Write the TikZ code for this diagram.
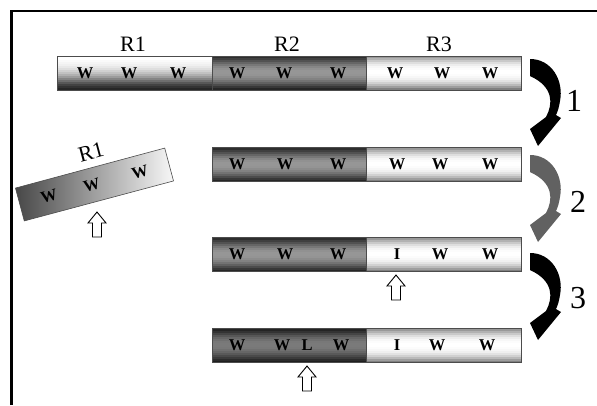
\documentclass[tikz,border=0pt]{standalone}
\usepackage{fontspec}
\setmainfont{Liberation Serif}
\newcommand{\gradseg}[3]{%
  \foreach \c [count=\k] in #3 {
    \fill[black!\c] (#1-77.25, #2-17+\k*2-2) rectangle ++(154.5, 2.3);
  }}
\def\lRone{0,0,2,4,6,9,13,18,24,31,39,48,57,66,74,80,85}
\def\lDark{82,75,68,60,53,47,43,41,41,42,45,49,55,62,70,78,85}
\def\lDarker{86,80,73,66,60,56,53,52,52,53,56,60,65,71,77,83,88}
\def\lLight{40,30,21,13,7,3,1,0,0,1,3,6,11,18,27,38,50}
\tikzset{
  seg/.style={draw=black!70, line width=0.6pt, minimum width=154.5pt, minimum height=34pt, inner sep=0pt},
  wl/.style={font=\fontsize{16.5}{17}\selectfont\bfseries, inner sep=0pt},
  rl/.style={font=\fontsize{22}{23}\selectfont, inner sep=0pt},
  num/.style={font=\fontsize{32}{34}\selectfont, inner sep=0pt},
  bendarrow/.pic={\path[pic actions] (0,0) .. controls (22,0) and (34,22) .. (30,42) .. controls (29,48) and (28,52) .. (26,56) -- (31,59) -- (8,87) -- (0,70) -- (16,58) .. controls (23,45) and (24,28) .. (0,17) -- cycle;},
  hollowup/.pic={\draw[fill=white, line width=0.9pt, line join=miter] (0,0) -- (9,11) -- (4.5,11) -- (4.5,25) -- (-4.5,25) -- (-4.5,11) -- (-9,11) -- cycle;}
}
\begin{document}
\begin{tikzpicture}[x=1pt, y=-1pt]
\useasboundingbox (0,0) rectangle (597,405);
% frame
\draw[line width=2.6pt] (11.5,405) -- (11.5,11) -- (597,11);

% gradients
\gradseg{135}{73}{\lRone}
\gradseg{289.5}{73}{\lDark}
\gradseg{444}{73}{\lLight}
\gradseg{289.5}{164.5}{\lDark}
\gradseg{444}{164.5}{\lLight}
\gradseg{289.5}{254.5}{\lDark}
\gradseg{444}{254.5}{\lLight}
\gradseg{289.5}{345.5}{\lDarker}
\gradseg{444}{345.5}{\lLight}

% top bar
\node[seg] (a1) at (135,73) {};
\node[seg] (a2) at (289.5,73) {};
\node[seg] (a3) at (444,73) {};
\node[rl] (la1) at (133,44) {R1};
\node[rl] (la2) at (287,44) {R2};
\node[rl] (la3) at (439,44) {R3};
\foreach \x [count=\i] in {85,129,178,237,284,338,395,442,490}
  \node[wl] (aw\i) at (\x,73) {W};

% row 2
\node[seg] (b2) at (289.5,164.5) {};
\node[seg] (b3) at (444,164.5) {};
\foreach \x [count=\i] in {237,285,338,397,440,490}
  \node[wl] (bw\i) at (\x,164.5) {W};

% row 3
\node[seg] (c2) at (289.5,254.5) {};
\node[seg] (c3) at (444,254.5) {};
\foreach \x [count=\i] in {237,285,338}
  \node[wl] (cw\i) at (\x,254.5) {W};
\node[wl] (ci) at (397,254.5) {I};
\node[wl] (cw4) at (440,254.5) {W};
\node[wl] (cw5) at (490,254.5) {W};

% row 4
\node[seg] (d2) at (289.5,345.5) {};
\node[seg] (d3) at (444,345.5) {};
\node[wl] (dw1) at (237,345.5) {W};
\node[wl] (dw2) at (282,345.5) {W};
\node[wl] (dl) at (307,345.5) {L};
\node[wl] (dw3) at (341,345.5) {W};
\node[wl] (di) at (397,345.5) {I};
\node[wl] (dw4) at (437,345.5) {W};
\node[wl] (dw5) at (487,345.5) {W};

% tilted R1
\begin{scope}[shift={(94.5,184.5)}, rotate=15, transform shape]
  \node[seg, left color=black!72, right color=black!3] (e1) at (0,0) {};
  \node[wl] (ew1) at (-47,0) {W};
  \node[wl] (ew2) at (-3,0) {W};
  \node[wl] (ew3) at (47,0) {W};
  \node[rl] (le1) at (5,-32) {R1};
\end{scope}

% hollow arrows
\pic at (97,212) {hollowup};
\pic at (396,275) {hollowup};
\pic at (307,366) {hollowup};

% curved arrows
\pic[fill=black] at (530,59) {bendarrow};
\pic[fill=black!62] at (530,155) {bendarrow};
\pic[fill=black] at (530,253) {bendarrow};
\node[num] (n1) at (574,101) {1};
\node[num] (n2) at (578,202) {2};
\node[num] (n3) at (578,298) {3};
\end{tikzpicture}
\end{document}
